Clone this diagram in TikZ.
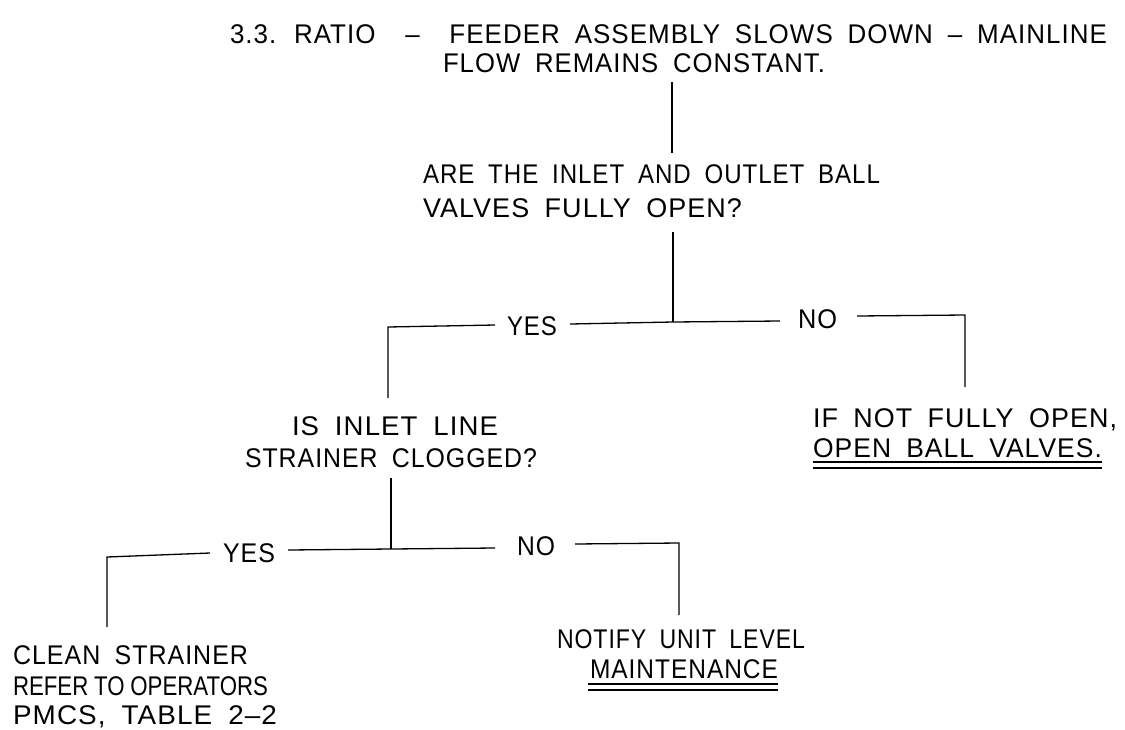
\documentclass[tikz,border=0pt]{standalone}
\usepackage{fontspec}
\usepackage{graphicx}
\setmainfont[LetterSpace=4,WordSpace=1.8]{Liberation Sans}
\newfontfamily\tightfont{Liberation Sans}
\newsavebox{\fitbox}
\newcommand{\fitline}[2]{\sbox{\fitbox}{#2}\pgfmathsetmacro{\fitratio}{#1/(\wd\fitbox/1pt)}\scalebox{\fitratio}[1]{\usebox{\fitbox}}}
\begin{document}
\begin{tikzpicture}[x=1pt,y=-1pt,
  txt/.style={inner sep=0pt,outer sep=0pt,anchor=base west,font=\fontsize{27}{30}\selectfont},
  conn/.style={line width=1.3pt,line cap=butt,line join=miter},
  uline/.style={line width=1.3pt}]
\useasboundingbox (0,0) rectangle (1125,729);
% ---- title
\node[txt] (t1) at (230,43) {\fitline{877}{3.3. RATIO \ – \ FEEDER ASSEMBLY SLOWS DOWN – MAINLINE}};
\node[txt] (t2) at (443,72) {\fitline{382}{FLOW REMAINS CONSTANT.}};
% ---- question 1
\node[txt] (q1a) at (423,183) {\fitline{457}{ARE THE INLET AND OUTLET BALL}};
\node[txt] (q1b) at (423,217) {\fitline{319}{VALVES FULLY OPEN?}};
% ---- answer 1 (no)
\node[txt] (a1a) at (813,427) {\fitline{304}{IF NOT FULLY OPEN,}};
\node[txt] (a1b) at (813,457) {\fitline{289}{OPEN BALL VALVES.}};
% ---- question 2
\node[txt] (q2a) at (292,435) {\fitline{206}{IS INLET LINE}};
\node[txt] (q2b) at (245,467) {\fitline{292}{STRAINER CLOGGED?}};
% ---- answer 2 (yes)
\node[txt] (a2a) at (13,664) {\fitline{235}{CLEAN STRAINER}};
\node[txt] (a2b) at (13,695) {\fitline{255}{\tightfont REFER\hspace{7pt}TO\hspace{7pt}OPERATORS}};
\node[txt] (a2c) at (13,724) {\fitline{264}{PMCS, TABLE 2–2}};
% ---- answer 3 (no)
\node[txt] (a3a) at (557,648) {\fitline{248}{NOTIFY UNIT LEVEL}};
\node[txt] (a3b) at (590,678) {\fitline{188}{MAINTENANCE}};
% ---- labels
\node[txt] (y1) at (507,335) {\fitline{50}{YES}};
\node[txt] (n1) at (798,328) {\fitline{39}{NO}};
\node[txt] (y2) at (223,562) {\fitline{52}{YES}};
\node[txt] (n2) at (517,555) {\fitline{38}{NO}};
% ---- coordinates
\coordinate (c0a) at (672,82);
\coordinate (c0b) at (672,153);
\coordinate (c1a) at (673,232);
\coordinate (J1)  at (673,322);
\coordinate (y1r) at (570,324);
\coordinate (y1l) at (495,325);
\coordinate (L1)  at (388,327);
\coordinate (L1b) at (388,398);
\coordinate (n1l) at (780,321);
\coordinate (n1r) at (857,316);
\coordinate (R1)  at (965,315);
\coordinate (R1b) at (965,387);
\coordinate (c2a) at (391,478);
\coordinate (J2)  at (391,549);
\coordinate (y2r) at (288,550);
\coordinate (y2l) at (210,553);
\coordinate (L2)  at (107,557);
\coordinate (L2b) at (107,627);
\coordinate (n2l) at (495,548);
\coordinate (n2r) at (575,544);
\coordinate (R2)  at (679,543);
\coordinate (R2b) at (679,615);
% ---- connectors
\draw[conn] (c0a) -- (c0b);
\draw[conn] (c1a) -- (J1);
\draw[conn] (J1) -- (y1r);
\draw[conn] (y1l) -- (L1) -- (L1b);
\draw[conn] (J1) -- (n1l);
\draw[conn] (n1r) -- (R1) -- (R1b);
\draw[conn] (c2a) -- (J2);
\draw[conn] (J2) -- (y2r);
\draw[conn] (y2l) -- (L2) -- (L2b);
\draw[conn] (J2) -- (n2l);
\draw[conn] (n2r) -- (R2) -- (R2b);
% ---- double underlines
\draw[uline] ([yshift=-5pt]a1b.base west) -- ([yshift=-5pt]a1b.base east);
\draw[uline] ([yshift=-11pt]a1b.base west) -- ([yshift=-11pt]a1b.base east);
\draw[uline] ([xshift=-2pt,yshift=-6pt]a3b.base west) -- ([yshift=-6pt]a3b.base east);
\draw[uline] ([xshift=-2pt,yshift=-12pt]a3b.base west) -- ([yshift=-12pt]a3b.base east);
\end{tikzpicture}
\end{document}
